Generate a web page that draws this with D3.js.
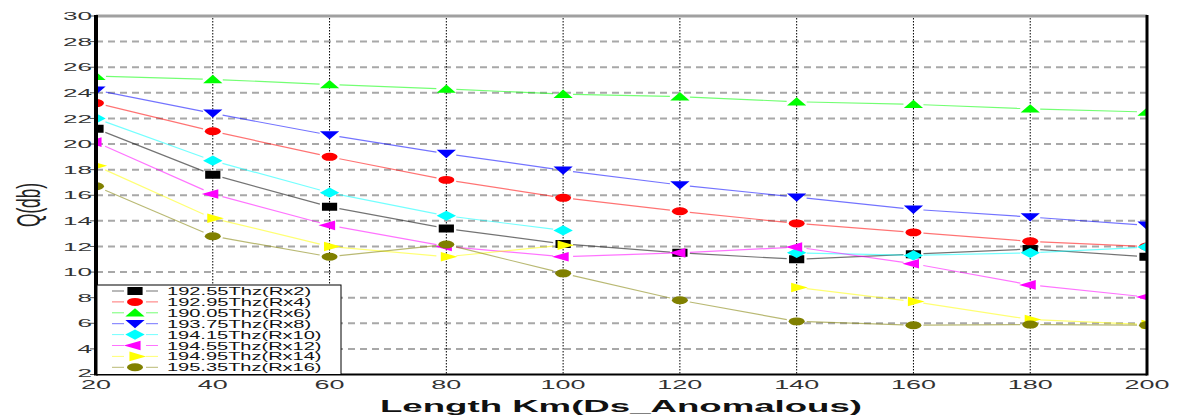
<!DOCTYPE html>
<html>
<head>
	<title>Q vs Length</title>
	<meta charset="utf-8">
	<style type="text/css">
		body{margin:0;background:#fff;}
		text{font-family:"Liberation Sans",Arial,sans-serif;}
		.grid-h line{stroke:#a8a8a8;stroke-width:2px;stroke-dasharray:7,5;}
		.grid-v line{stroke:#000;stroke-width:1px;stroke-dasharray:1.5,1.5;}
		.tick-label{fill:#333;font-size:13px;}
		.seg{fill:none;stroke-width:1.2px;stroke-opacity:0.55;}
	</style>
</head>
<body>
<svg width="1181" height="418"></svg>

<script type="text/javascript" src="https://d3js.org/d3.v7.min.js"></script>
<script type="text/javascript">
// 横轴: 长度 km
var lengths = [20, 40, 60, 80, 100, 120, 140, 160, 180, 200];
var xTickLabels = ["20","40","60","80","100","120","140","160","180","200"];
var yTickValues = [2,4,6,8,10,12,14,16,18,20,22,24,26,28,30];

// 各信道 Q 值 (null = 没有点)
var rx2  = [21.2, 17.6, 15.1, 13.4, 12.2, 11.5, 11.0, 11.4, 11.8, 11.2];
var rx4  = [23.2, 21.0, 19.0, 17.2, 15.8, 14.75, 13.8, 13.1, 12.4, 12.0];
var rx6  = [25.3, 25.05, 24.65, 24.3, 23.9, 23.7, 23.3, 23.1, 22.75, 22.5];
var rx8  = [24.2, 22.4, 20.7, 19.25, 17.95, 16.8, 15.85, 14.9, 14.3, 13.65];
var rx10 = [22.0, 18.7, 16.2, 14.4, 13.25, null, 11.5, 11.3, 11.5, 11.95];
var rx12 = [20.15, 16.1, 13.65, 12.0, 11.2, 11.5, 11.95, 10.65, 9.0, 8.05];
var rx14 = [18.3, 14.2, 12.0, 11.2, 12.1, null, 8.8, 7.7, 6.3, 5.9];
var rx16 = [16.7, 12.8, 11.2, 12.15, 9.9, 7.8, 6.15, 5.85, 5.9, 5.85];

var seriesNames = ["192.55Thz(Rx2)","192.95Thz(Rx4)","190.05Thz(Rx6)","193.75Thz(Rx8)",
                   "194.15Thz(Rx10)","194.55Thz(Rx12)","194.95Thz(Rx14)","195.35Thz(Rx16)"];
var seriesValues = [rx2, rx4, rx6, rx8, rx10, rx12, rx14, rx16];
var seriesColors = ["#000000","#ff0000","#00ff00","#0000ff","#00ffff","#ff00ff","#ffff00","#808000"];
var seriesMarks  = ["square","circle","up","down","diamond","left","right","circle"];

var svg = d3.select("svg"),
    margin = {top: 16, left: 96, right: 34, bottom: 43.5},
    width  = +svg.attr("width") - margin.left - margin.right,
    height = +svg.attr("height") - margin.top - margin.bottom;

var xScale = d3.scaleLinear().domain([20, 200]).range([0, width]),
    yScale = d3.scaleLinear().domain([2, 30]).range([height, 0]);

var g = svg.append("g").attr("transform", "translate(" + margin.left + "," + margin.top + ")");

svg.append("defs").append("clipPath").attr("id", "plotClip")
    .append("rect").attr("width", width).attr("height", height);

// 水平虚线网格
g.append("g").attr("class", "grid-h")
    .selectAll("line")
    .data(yTickValues.filter(function(d){ return d > 2 && d < 30; }))
    .enter().append("line")
    .attr("x1", 0).attr("x2", width)
    .attr("y1", function(d){ return yScale(d); })
    .attr("y2", function(d){ return yScale(d); });

// 竖直点线网格
g.append("g").attr("class", "grid-v")
    .selectAll("line")
    .data(lengths.slice(1, -1))
    .enter().append("line")
    .attr("x1", function(d){ return xScale(d); })
    .attr("x2", function(d){ return xScale(d); })
    .attr("y1", 2).attr("y2", height);

// 标记形状
function markPath(type){
    if (type == "square")  return d3.symbol().type(d3.symbolSquare).size(64)();
    if (type == "circle")  return d3.symbol().type(d3.symbolCircle).size(50)();
    if (type == "diamond") return d3.symbol().type(d3.symbolDiamond).size(30)();
    return d3.symbol().type(d3.symbolTriangle).size(40)();
}
function markTransform(type, x, y){
    var t = "translate(" + x + "," + y + ")";
    if (type == "square")  return t + " scale(1.9,1)";
    if (type == "circle")  return t + " scale(2,1)";
    if (type == "diamond") return t + " scale(3.3,1)";
    if (type == "up")      return t + " scale(2,1) translate(0,1)";
    if (type == "down")    return t + " scale(2,1) translate(0,-1) rotate(180)";
    if (type == "left")    return t + " scale(2,1) rotate(-90)";
    return t + " scale(2,1) rotate(90)";
}

// 画线段, 两端留空
var gap = 10;
var plot = g.append("g").attr("clip-path", "url(#plotClip)");
seriesValues.forEach(function(vals, si){
    var sg = plot.append("g");
    var pts = lengths.map(function(d, i){
        return vals[i] == null ? null : [xScale(d), yScale(vals[i])];
    });
    var segs = [];
    for (var i = 0; i < pts.length - 1; i++){
        if (pts[i] && pts[i+1]) segs.push([pts[i], pts[i+1]]);
    }
    sg.selectAll(".seg").data(segs).enter().append("line")
        .attr("class", "seg")
        .style("stroke", seriesColors[si])
        .each(function(s){
            var dx = s[1][0] - s[0][0], dy = s[1][1] - s[0][1];
            var L = Math.sqrt(dx*dx + dy*dy), ux = dx / L, uy = dy / L;
            d3.select(this)
                .attr("x1", s[0][0] + ux*gap).attr("y1", s[0][1] + uy*gap)
                .attr("x2", s[1][0] - ux*gap).attr("y2", s[1][1] - uy*gap);
        });
    sg.selectAll(".mark").data(pts.filter(function(p){ return p; })).enter().append("path")
        .attr("class", "mark")
        .attr("d", markPath(seriesMarks[si]))
        .attr("fill", seriesColors[si])
        .attr("transform", function(p){ return markTransform(seriesMarks[si], p[0], p[1]); });
});

// 边框与坐标轴
g.append("line").attr("x1", 0).attr("x2", width).attr("y1", 0).attr("y2", 0)
    .style("stroke", "#a0a0a0").style("stroke-width", "3px");
g.append("line").attr("x1", 0).attr("x2", width).attr("y1", height).attr("y2", height)
    .style("stroke", "#000").style("stroke-width", "2px");
g.append("line").attr("x1", 0).attr("x2", 0).attr("y1", -1).attr("y2", height + 1)
    .style("stroke", "#000").style("stroke-width", "4px");
g.append("line").attr("x1", width).attr("x2", width).attr("y1", -1).attr("y2", height + 1)
    .style("stroke", "#000").style("stroke-width", "3px");

// Y 轴刻度
var yAxis = g.append("g");
yAxis.selectAll("line").data(yTickValues).enter().append("line")
    .attr("x1", -6).attr("x2", -2)
    .attr("y1", function(d){ return yScale(d); })
    .attr("y2", function(d){ return yScale(d); })
    .style("stroke", "#555");
yAxis.selectAll("text").data(yTickValues).enter().append("text")
    .attr("class", "tick-label")
    .style("font-size", "11.5px")
    .attr("text-anchor", "end")
    .attr("x", -4)
    .attr("y", function(d){ return yScale(d) + (d == 2 ? 2.5 : 4.2); })
    .attr("textLength", function(d){ return String(d).length * 14.5; })
    .attr("lengthAdjust", "spacingAndGlyphs")
    .text(function(d){ return d; });

// X 轴刻度
g.append("g").selectAll("text").data(lengths).enter().append("text")
    .attr("class", "tick-label")
    .attr("text-anchor", "middle")
    .attr("x", function(d){ return xScale(d); })
    .attr("y", height + 14)
    .attr("textLength", function(d, i){ return xTickLabels[i].length * 15; })
    .attr("lengthAdjust", "spacingAndGlyphs")
    .text(function(d, i){ return xTickLabels[i]; });

// 轴标题
svg.append("text")
    .attr("text-anchor", "middle")
    .attr("x", 621).attr("y", 412)
    .attr("textLength", 482).attr("lengthAdjust", "spacingAndGlyphs")
    .style("font-size", "17px").style("font-weight", "bold").style("fill", "#111")
    .text("Length Km(Ds_Anomalous)");
svg.append("text")
    .attr("text-anchor", "middle")
    .attr("transform", "translate(40,205) rotate(-90)")
    .attr("textLength", 44).attr("lengthAdjust", "spacingAndGlyphs")
    .style("font-size", "33px").style("fill", "#222")
    .text("Q(db)");

// 图例
var legend = svg.append("g").attr("transform", "translate(" + margin.left + ",285)");
legend.append("rect")
    .attr("x", 1).attr("y", 0).attr("width", 244).attr("height", 89.5)
    .style("fill", "#fff").style("stroke", "#000").style("stroke-width", "1px");
var rows = legend.selectAll(".row").data(seriesNames).enter().append("g")
    .attr("transform", function(d, i){ return "translate(0," + (6 + i * 10.9) + ")"; });
rows.append("line").attr("x1", 16).attr("x2", 28).attr("y1", 0).attr("y2", 0)
    .style("stroke", function(d, i){ return seriesColors[i]; }).style("stroke-opacity", 0.55);
rows.append("line").attr("x1", 50).attr("x2", 62).attr("y1", 0).attr("y2", 0)
    .style("stroke", function(d, i){ return seriesColors[i]; }).style("stroke-opacity", 0.55);
rows.append("path")
    .attr("d", function(d, i){ return markPath(seriesMarks[i]); })
    .attr("fill", function(d, i){ return seriesColors[i]; })
    .attr("transform", function(d, i){ return markTransform(seriesMarks[i], 39, 0); });
rows.append("text")
    .attr("x", 71).attr("y", 4)
    .attr("textLength", function(d){ return d.length * 10.3; })
    .attr("lengthAdjust", "spacingAndGlyphs")
    .style("font-size", "11px").style("fill", "#111")
    .text(function(d){ return d; });
</script>
</body>
</html>
